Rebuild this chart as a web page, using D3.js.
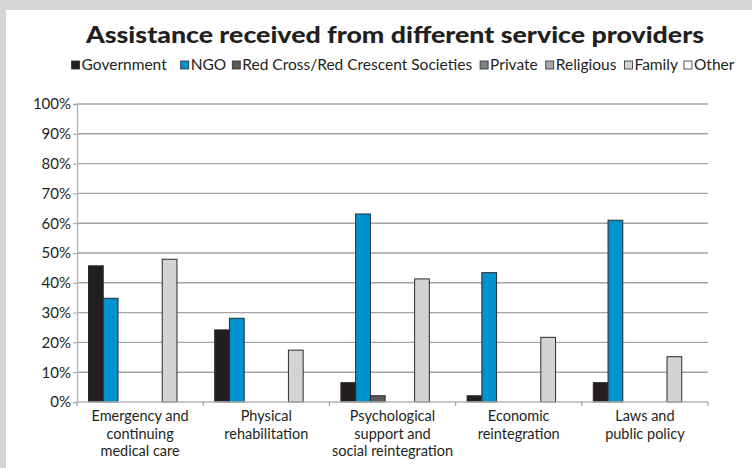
<!DOCTYPE html>
<html>
<head>
<meta charset="utf-8">
<script src="https://cdn.jsdelivr.net/npm/d3@7"></script>
<style>
  html, body { margin: 0; padding: 0; background: #d4d5d7; }
  svg { display: block; }
  text { font-family: Lato, "Open Sans", sans-serif; fill: #231f20; }
</style>
</head>
<body>
<svg id="chart" width="752" height="468"></svg>
<script>
// Service areas along the x axis (line breaks shown with "|")
const categories = [
  "Emergency and|continuing|medical care",
  "Physical|rehabilitation",
  "Psychological|support and|social reintegration",
  "Economic|reintegration",
  "Laws and|public policy"
];
const seriesNames = ["Government", "NGO", "Red Cross/Red Crescent Societies", "Private", "Religious", "Family", "Other"];
const seriesColors = ["#231f20", "#0093d0", "#58595b", "#808285", "#a7a9ac", "#d1d3d4", "#ffffff"];

// Share of respondents (%) per provider, one value per service area
const government = [45.7, 24.2, 6.5, 2.1, 6.5];
const ngo        = [34.8, 28.1, 63.1, 43.4, 61.0];
const redCross   = [0, 0, 2.1, 0, 0];
const privateSec = [0, 0, 0, 0, 0];
const religious  = [0, 0, 0, 0, 0];
const family     = [47.9, 17.4, 41.3, 21.7, 15.2];
const other      = [0, 0, 0, 0, 0];
const seriesValues = [government, ngo, redCross, privateSec, religious, family, other];

const yTicks = [0, 10, 20, 30, 40, 50, 60, 70, 80, 90, 100];

const svg = d3.select("#chart");

// white panel
svg.append("rect").attr("x", 6).attr("y", 10).attr("width", 746).attr("height", 458).attr("fill", "#ffffff");

const plot = { left: 77, right: 708, top: 104, bottom: 402 };

const x0 = d3.scaleBand().domain(d3.range(categories.length)).range([plot.left, plot.right]).padding(0);
const x1 = d3.scaleBand().domain(d3.range(seriesNames.length)).range([0, x0.bandwidth()])
  .paddingInner(0).paddingOuter(0.78);
const y = d3.scaleLinear().domain([0, 100]).range([plot.bottom, plot.top]);

// gridlines
svg.append("g").selectAll("line").data(yTicks.filter(d => d > 0)).join("line")
  .attr("x1", plot.left).attr("x2", plot.right)
  .attr("y1", d => y(d)).attr("y2", d => y(d))
  .attr("stroke", "#a3a3a3").attr("stroke-width", 1.4);

// y axis
const yAxis = svg.append("g").attr("transform", `translate(${plot.left},0)`)
  .call(d3.axisLeft(y).tickValues(yTicks).tickFormat(d => d + "%").tickSize(4).tickPadding(2));
yAxis.select(".domain").attr("stroke", "#b5b5b5").attr("stroke-width", 1.4);
yAxis.selectAll(".tick line").attr("stroke", "#a3a3a3");
yAxis.selectAll(".tick text").attr("font-size", 15).attr("fill", "#231f20")
  .style("font-family", "Lato, sans-serif");

// bars
const groups = svg.append("g").selectAll("g").data(categories).join("g")
  .attr("transform", (d, i) => `translate(${x0(i)},0)`);
groups.selectAll("rect")
  .data((d, ci) => seriesValues.map((vals, si) => ({ si, v: vals[ci] })).filter(e => e.v > 0))
  .join("rect")
  .attr("x", e => x1(e.si))
  .attr("width", x1.bandwidth())
  .attr("y", e => y(e.v))
  .attr("height", e => plot.bottom - y(e.v))
  .attr("fill", e => seriesColors[e.si])
  .attr("stroke", "#2b2b2b").attr("stroke-width", 1);

// x axis
const xAxisLine = svg.append("g");
xAxisLine.append("line").attr("x1", plot.left).attr("x2", plot.right)
  .attr("y1", plot.bottom).attr("y2", plot.bottom)
  .attr("stroke", "#b5b5b5").attr("stroke-width", 1.4);
xAxisLine.selectAll("line.tk").data(d3.range(categories.length + 1)).join("line")
  .attr("class", "tk")
  .attr("x1", i => plot.left + i * x0.step()).attr("x2", i => plot.left + i * x0.step())
  .attr("y1", plot.bottom).attr("y2", plot.bottom + 4)
  .attr("stroke", "#a3a3a3").attr("stroke-width", 1.2);

const xLabels = svg.append("g").selectAll("text").data(categories).join("text")
  .attr("text-anchor", "middle")
  .attr("font-size", 14.5)
  .attr("transform", (d, i) => `translate(${x0(i) + x0.bandwidth() / 2},${plot.bottom + 19})`);
xLabels.selectAll("tspan").data(d => d.split("|")).join("tspan")
  .attr("x", 0).attr("dy", (d, i) => i === 0 ? 0 : 17.5).text(d => d);

// title
svg.append("text").attr("x", 395).attr("y", 43).attr("text-anchor", "middle")
  .attr("font-size", 23).attr("font-weight", 900)
  .attr("textLength", 618).attr("lengthAdjust", "spacingAndGlyphs")
  .text("Assistance received from different service providers");

// legend
const legend = svg.append("g").attr("transform", "translate(0,70)");
const items = legend.selectAll("g").data(seriesNames).join("g");
items.append("rect").attr("width", 8).attr("height", 8).attr("y", -9)
  .attr("fill", (d, i) => seriesColors[i]).attr("stroke", "#2b2b2b").attr("stroke-width", 0.8);
items.append("text").attr("x", 10).attr("font-size", 15.5).text(d => d);
const gaps = [14, 6, 8, 8, 8, 6, 0];
let widths = [];
items.each(function () { widths.push(10 + this.querySelector("text").getComputedTextLength()); });
const total = d3.sum(widths) + d3.sum(gaps);
let cx = 403 - total / 2;
items.attr("transform", (d, i) => {
  const t = `translate(${cx},0)`;
  cx += widths[i] + gaps[i];
  return t;
});
</script>
</body>
</html>
